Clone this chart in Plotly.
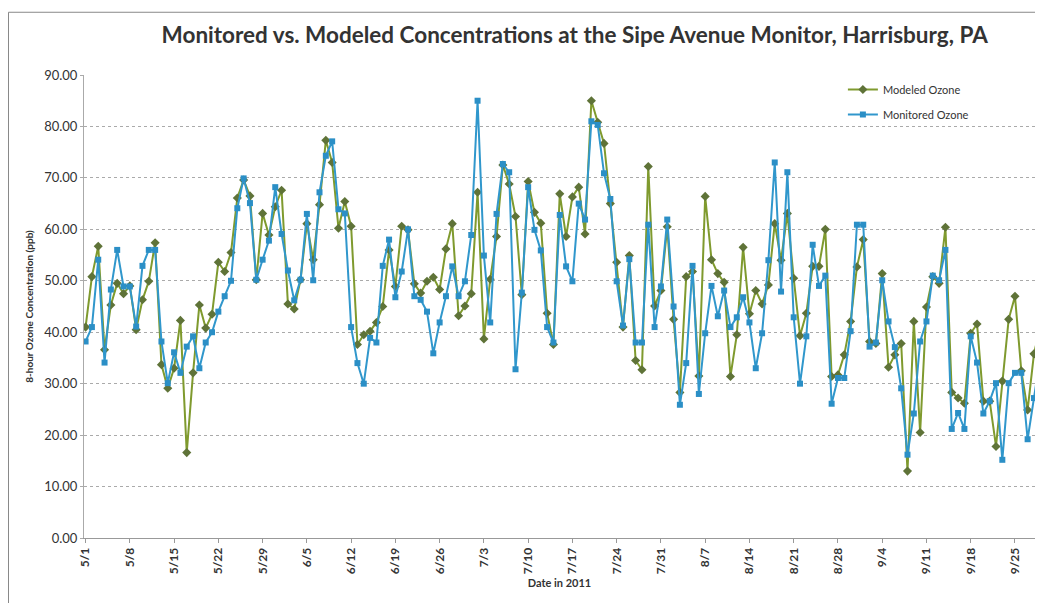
import pandas as pd
import plotly.graph_objects as go

dates = pd.date_range("2011-05-01", periods=152, freq="D")

modeled = [
    41.0, 50.8, 56.7, 36.6, 45.3, 49.5, 47.5, 49.0, 40.5, 46.3,
    49.9, 57.4, 33.7, 29.1, 33.0, 42.3, 16.6, 32.1, 45.3, 40.8,
    43.5, 53.6, 51.8, 55.5, 66.1, 69.6, 66.5, 50.2, 63.1, 58.9,
    64.4, 67.6, 45.5, 44.5, 50.2, 61.1, 54.1, 64.8, 77.3, 73.0,
    60.2, 65.4, 60.6, 37.6, 39.5, 40.2, 41.9, 45.0, 56.0, 48.9,
    60.6, 59.9, 49.4, 47.6, 49.9, 50.7, 48.3, 56.2, 61.1, 43.2,
    45.1, 47.5, 67.2, 38.7, 50.3, 58.6, 72.5, 68.8, 62.5, 47.3,
    69.3, 63.3, 61.2, 43.7, 37.6, 66.9, 58.6, 66.3, 68.2, 59.1,
    85.0, 80.8, 76.7, 65.0, 53.6, 41.0, 54.9, 34.5, 32.7, 72.2,
    45.1, 48.1, 60.5, 42.5, 28.3, 50.8, 51.8, 31.5, 66.4, 54.1,
    51.4, 49.7, 31.4, 39.5, 56.5, 43.6, 48.1, 45.5, 49.2, 61.1,
    54.0, 63.1, 50.5, 39.3, 43.7, 52.8, 52.8, 60.0, 31.4, 31.7,
    35.6, 42.1, 52.7, 58.0, 38.2, 37.8, 51.4, 33.2, 35.6, 37.8,
    13.0, 42.1, 20.5, 44.9, 50.8, 49.5, 60.4, 28.3, 27.2, 26.2,
    39.8, 41.6, 26.6, 26.6, 17.8, 30.5, 42.5, 47.0, 32.5, 24.9,
    35.8, 41.0,
]

monitored = [
    38.2, 41.0, 54.1, 34.1, 48.3, 56.0, 48.9, 48.9, 41.1, 52.9,
    56.0, 56.0, 38.2, 30.1, 36.1, 32.1, 37.2, 39.2, 33.0, 38.0,
    40.0, 44.0, 47.0, 50.0, 64.1, 69.9, 65.1, 50.2, 54.1, 57.8,
    68.2, 59.1, 52.0, 46.2, 50.2, 63.0, 50.1, 67.2, 74.3, 77.1,
    63.9, 63.1, 41.0, 34.0, 30.0, 38.9, 38.0, 52.9, 58.0, 46.8,
    51.8, 60.0, 47.0, 46.3, 44.0, 35.9, 41.9, 47.0, 52.8, 47.0,
    49.9, 58.9, 85.0, 54.9, 41.9, 63.0, 72.7, 71.1, 32.8, 47.7,
    68.2, 59.9, 55.9, 41.0, 38.0, 62.8, 52.8, 49.9, 65.0, 61.9,
    81.0, 80.3, 70.9, 65.9, 49.9, 41.3, 54.2, 38.0, 38.0, 60.9,
    41.0, 48.9, 61.9, 45.0, 25.9, 34.0, 52.9, 28.0, 39.8, 49.0,
    43.1, 48.1, 41.0, 42.9, 46.8, 41.9, 33.0, 39.8, 54.0, 73.0,
    47.9, 71.1, 42.9, 30.0, 39.2, 57.0, 49.0, 51.0, 26.1, 31.1,
    31.1, 40.2, 60.9, 60.9, 37.2, 38.0, 50.1, 42.1, 37.1, 29.1,
    16.2, 24.2, 38.2, 42.1, 51.0, 50.1, 56.0, 21.2, 24.3, 21.2,
    39.2, 34.1, 24.2, 26.6, 30.1, 15.2, 30.1, 32.1, 32.1, 19.2,
    27.2, 35.3,
]

title_text = "Monitored vs. Modeled Concentrations at the Sipe Avenue Monitor, Harrisburg, PA"
tick_dates = pd.date_range("2011-05-01", "2011-09-25", freq="7D")
tick_labels = [f"{d.month}/{d.day}" for d in tick_dates]

fig = go.Figure()
fig.add_trace(go.Scatter(
    x=dates, y=modeled, name="Modeled Ozone", mode="lines+markers",
    legendgroup="a",
    line=dict(color="#7f9a2e", width=2),
    marker=dict(symbol="diamond", size=7, color="#5f7338"),
))
fig.add_trace(go.Scatter(
    x=dates, y=monitored, name="Monitored Ozone", mode="lines+markers",
    legendgroup="b",
    line=dict(color="#3097cc", width=2),
    marker=dict(symbol="square", size=6, color="#2b8fc6"),
))

fig.update_layout(
    width=1027, height=595,
    margin=dict(l=76, r=0, t=67, b=65, autoexpand=False),
    paper_bgcolor="white", plot_bgcolor="white",
    font=dict(family="Lato, Open Sans, sans-serif", color="#333333"),
    title=dict(text=title_text, x=0.516, xref="paper", xanchor="center",
               y=0.9546, yref="container", yanchor="middle",
               font=dict(size=22.5, color="#333333", weight="bold")),
    showlegend=True,
    legend=dict(x=0.798, y=1.0, xanchor="left", yanchor="top",
                bgcolor="rgba(0,0,0,0)", font=dict(size=11, color="#333333"),
                tracegroupgap=6),
    shapes=[dict(type="rect", xref="paper", yref="paper",
                 x0=-0.0794, x1=1.01, y0=-0.3, y1=1.1355,
                 line=dict(color="#888888", width=1), layer="above")],
)

fig.update_xaxes(
    range=["2011-04-30T18:00", "2011-09-28T04:00"], automargin=False,
    tickvals=tick_dates, ticktext=tick_labels, tickangle=-90,
    tickfont=dict(size=12, color="#333333", weight="bold"),
    ticks="outside", ticklen=4, tickcolor="#999999",
    showgrid=False, showline=True, linecolor="#999999", linewidth=1,
    title=dict(text="Date in 2011", standoff=6,
               font=dict(size=11, color="#333333", weight="bold")),
)
fig.update_yaxes(
    range=[0, 90], dtick=10, tickformat=".2f", automargin=False,
    tickfont=dict(size=13, color="#333333"),
    showgrid=True, gridcolor="#aaaaaa", gridwidth=1, griddash="dot",
    zeroline=False, showline=True, linecolor="#aaaaaa",
    ticks="outside", ticklen=3, tickcolor="#aaaaaa",
    title=dict(text="8-hour Ozone Concentration (ppb)", standoff=8,
               font=dict(size=10, color="#333333", weight="bold")),
)

fig.write_html("out.html")
